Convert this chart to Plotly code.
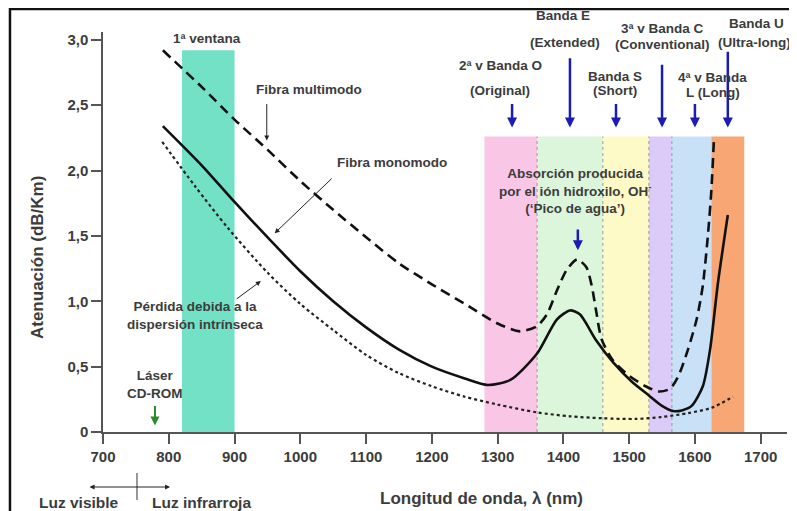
import plotly.graph_objects as go

# ---------------- data ----------------
multi_x = [791, 850, 900, 950, 1000, 1050, 1100, 1150, 1200, 1250, 1300, 1334, 1360, 1375, 1390, 1405,
           1421, 1435, 1443, 1450, 1458, 1475, 1500, 1525, 1545, 1562, 1575, 1590, 1603, 1612, 1620, 1625, 1629]
multi_y = [2.92, 2.64, 2.39, 2.16, 1.92, 1.70, 1.49, 1.29, 1.13, 0.98, 0.83, 0.77, 0.81, 0.90, 1.08, 1.24,
           1.32, 1.26, 1.12, 0.92, 0.71, 0.55, 0.43, 0.35, 0.31, 0.33, 0.43, 0.64, 0.87, 1.12, 1.52, 1.85, 2.25]

mono_x = [791, 850, 900, 950, 1000, 1050, 1100, 1150, 1200, 1250, 1285, 1320, 1360, 1390, 1410, 1425,
          1450, 1476, 1505, 1530, 1550, 1567, 1580, 1595, 1612, 1623, 1635, 1650]
mono_y = [2.34, 2.04, 1.76, 1.49, 1.23, 1.00, 0.80, 0.63, 0.50, 0.41, 0.36, 0.40, 0.60, 0.86, 0.93, 0.90,
          0.70, 0.53, 0.38, 0.28, 0.20, 0.16, 0.165, 0.20, 0.35, 0.63, 1.14, 1.66]

scat_x = [790, 840, 890, 950, 1000, 1050, 1100, 1150, 1200, 1250, 1300, 1360, 1410, 1460, 1510,
          1550, 1590, 1625, 1658]
scat_y = [2.22, 1.88, 1.56, 1.22, 0.98, 0.78, 0.59, 0.45, 0.35, 0.27, 0.21, 0.15, 0.12, 0.105, 0.10,
          0.115, 0.145, 0.185, 0.27]

band_names = ["1ª ventana", "O", "E", "S", "C", "L", "U"]
band_start = [820, 1280, 1360, 1460, 1530, 1565, 1625]
band_end = [900, 1360, 1460, 1530, 1565, 1625, 1675]
band_top = [2.92, 2.26, 2.26, 2.26, 2.26, 2.26, 2.26]
band_edges = [1360, 1460, 1530, 1565]

band_arrow_x = [1322, 1410, 1480, 1550, 1600, 1650]
band_arrow_tail = [2.52, 2.87, 2.52, 2.82, 2.52, 2.92]
band_arrow_head = 2.33

band_label_text = ["2ª v Banda O", "(Original)", "Banda E", "(Extended)", "Banda S", "(Short)",
                   "3ª v Banda C", "(Conventional)", "4ª v Banda", "L (Long)", "Banda U", "(Ultra-long)"]
band_label_x = [1304, 1304, 1399, 1402, 1478, 1478, 1551, 1551, 1627, 1627, 1693, 1691]
band_label_y = [0.9175, 0.855, 1.0425, 0.9725, 0.89, 0.8525, 1.0075, 0.9675, 0.8875, 0.85, 1.0225, 0.9725]

x_ticks = [700, 800, 900, 1000, 1100, 1200, 1300, 1400, 1500, 1600, 1700]
y_ticks = [0, 0.5, 1.0, 1.5, 2.0, 2.5, 3.0]
y_tick_text = ["0", "0,5", "1,0", "1,5", "2,0", "2,5", "3,0"]

# ---------------- styles ----------------
band_colors = ["#72e1c6", "#f9c6e6", "#dcf6dc", "#fdfac8", "#dccaf8", "#c9e1f7", "#f8a674"]
TXT = "#3c3c3c"
FONT = "Liberation Sans, Arial, sans-serif"
BLUE = "#1c1cb4"

fig = go.Figure()

shapes = []
for s, e, t, c in zip(band_start, band_end, band_top, band_colors):
    shapes.append(dict(type="rect", xref="x", yref="y", x0=s, x1=e, y0=0, y1=t,
                       fillcolor=c, line=dict(width=0), layer="below"))
for ed in band_edges:
    shapes.append(dict(type="line", xref="x", yref="y", x0=ed, x1=ed, y0=0, y1=band_top[1],
                       line=dict(color="#9a9a9a", width=1, dash="dot"), layer="below"))
# outer frame (top and left border of the picture)
shapes.append(dict(type="rect", xref="paper", yref="paper", x0=-0.136, x1=1.05, y0=-0.3, y1=1.0575,
                   line=dict(color="#111", width=2.5), fillcolor="rgba(0,0,0,0)"))
# visible / infrared divider
shapes.append(dict(type="line", xref="paper", yref="paper", x0=0.0497, x1=0.0497, y0=-0.1025, y1=-0.17,
                   line=dict(color="#333", width=1)))

fig.add_trace(go.Scatter(x=scat_x, y=scat_y, mode="lines", line=dict(color="#222", width=2.2, dash="dot",
                         shape="spline", smoothing=0.8), name="Pérdida por dispersión", showlegend=False))
fig.add_trace(go.Scatter(x=multi_x, y=multi_y, mode="lines", line=dict(color="#111", width=2.6, dash="10px,6px",
                         shape="spline", smoothing=0.7), name="Fibra multimodo", showlegend=False))
fig.add_trace(go.Scatter(x=mono_x, y=mono_y, mode="lines", line=dict(color="#111", width=2.6,
                         shape="spline", smoothing=0.7), name="Fibra monomodo", showlegend=False))

ann = []
def txt(text, x, y, xref="x", yref="y", size=13.5, **kw):
    d = dict(text=text, x=x, y=y, xref=xref, yref=yref, showarrow=False,
             xanchor="center", yanchor="middle",
             font=dict(family=FONT, size=size, color=TXT, weight="bold"))
    d.update(kw)
    ann.append(d)

def arrow(x, y, ax, ay, color="#222", width=1, head=2, size=1.0):
    ann.append(dict(text="", x=x, y=y, ax=ax, ay=ay, xref="x", yref="y", axref="x", ayref="y",
                    showarrow=True, arrowhead=head, arrowsize=size, arrowwidth=width, arrowcolor=color,
                    standoff=0, startstandoff=0))

txt("1ª ventana", 858, 0.985, yref="paper")
txt("Fibra multimodo", 1013, 2.62)
arrow(949, 2.23, 949, 2.52)
txt("Fibra monomodo", 1139, 2.06)
arrow(961, 1.52, 1050, 1.95)
txt("Pérdida debida a la<br>dispersión intrínseca", 840, 0.895)
arrow(940, 1.155, 901, 1.01)
txt("Láser<br>CD-ROM", 779, 0.36)
arrow(779, 0.05, 779, 0.21, color="#2a8c2a", width=2, size=0.9)
txt("Absorción producida<br>por el ión hidroxilo, OH<sup>-</sup><br>(‘Pico de agua’)", 1418, 1.84)
arrow(1422, 1.39, 1422, 1.56, color=BLUE, width=2.5, size=0.8)

for bx, bt in zip(band_arrow_x, band_arrow_tail):
    arrow(bx, band_arrow_head, bx, bt, color=BLUE, width=2.5, size=0.8)
for t, x, y in zip(band_label_text, band_label_x, band_label_y):
    txt(t, x, y, yref="paper")

# axis titles
txt("Longitud de onda, λ (nm)", 0.553, -0.165, xref="paper", yref="paper", size=17)
txt("Atenuación (dB/Km)", -0.095, 0.435, xref="paper", yref="paper", size=17, textangle=-90)
# visible / infrared
txt("Luz visible", -0.0351, -0.175, xref="paper", yref="paper", size=15.5)
txt("Luz infrarroja", 0.1447, -0.175, xref="paper", yref="paper", size=15.5)
ann.append(dict(text="", x=0.098, y=-0.1375, xref="paper", yref="paper", ax=-82, ay=0,
                showarrow=True, arrowhead=2, arrowside="end+start", arrowsize=1, arrowwidth=1,
                arrowcolor="#222", standoff=0, startstandoff=0))

# the page body adds an 8px offset; the figure is sized so the plot area lands where the reference has it
fig.update_layout(
    width=789, height=503,
    margin=dict(l=95, r=10, t=24, b=79),
    paper_bgcolor="white", plot_bgcolor="white",
    shapes=shapes, annotations=ann, showlegend=False,
    xaxis=dict(range=[700, 1740], tickvals=x_ticks, showgrid=False, zeroline=False,
               showline=True, linecolor="#555", linewidth=1.5, ticks="outside", ticklen=10,
               tickcolor="#555", tickwidth=1.5,
               tickfont=dict(family=FONT, size=15, color=TXT, weight="bold")),
    yaxis=dict(range=[0, 3.06], tickvals=y_ticks, ticktext=y_tick_text, showgrid=False, zeroline=False,
               showline=True, linecolor="#555", linewidth=1.5, ticks="outside", ticklen=10,
               tickcolor="#555", tickwidth=1.5,
               tickfont=dict(family=FONT, size=15, color=TXT, weight="bold")),
)

fig.write_html("out.html")
